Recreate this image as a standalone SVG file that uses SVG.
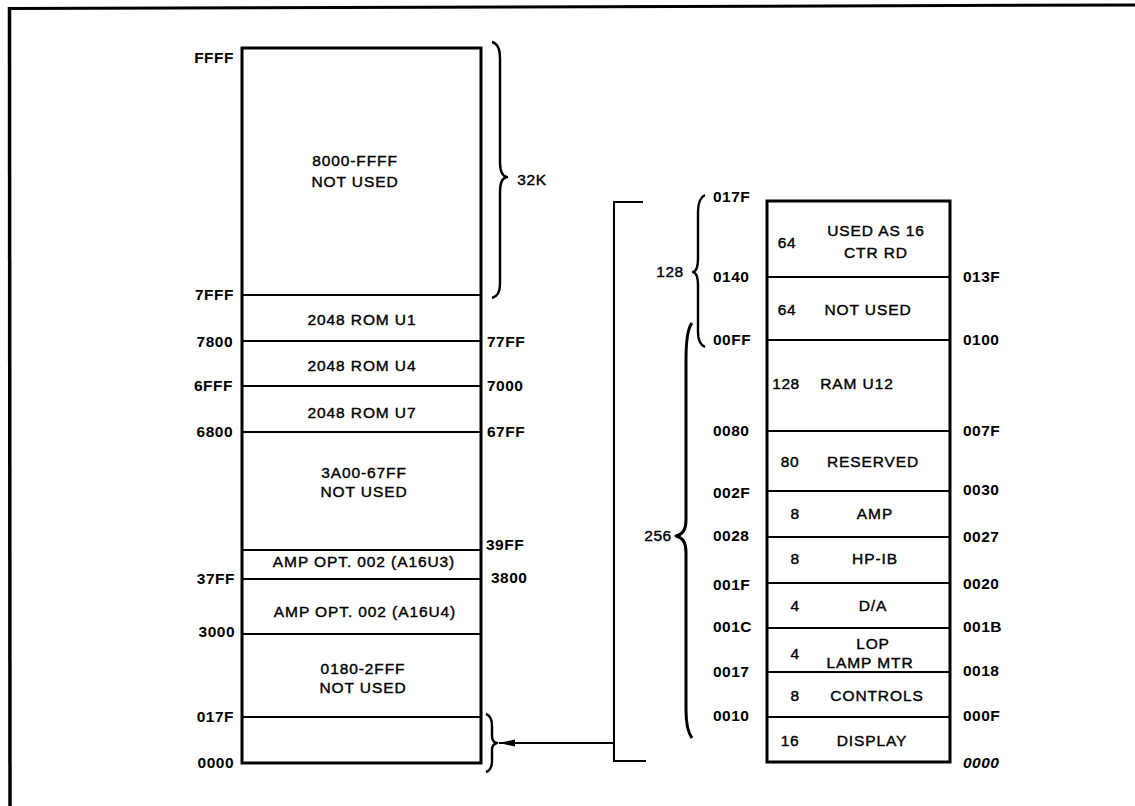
<svg xmlns="http://www.w3.org/2000/svg" width="1135" height="806" viewBox="0 0 1135 806">
<defs>
<style>
text{font-family:"Liberation Sans",Arial,sans-serif;fill:#000}
.in{font-size:15.5px;letter-spacing:0.9px;text-anchor:middle;stroke:#000;stroke-width:0.4}
.n{font-size:15.5px;letter-spacing:0.6px;text-anchor:middle;stroke:#000;stroke-width:0.4}
.ad{font-size:15.5px;font-weight:bold;letter-spacing:0.5px}
.adr{font-size:15.5px;font-weight:bold;letter-spacing:0.5px;text-anchor:end}
.box{fill:#fff;stroke:#000;stroke-width:3}
.div{stroke:#000;stroke-width:2;fill:none}
.br{fill:none;stroke:#000;stroke-width:2.4;stroke-linejoin:round}
.ln{fill:none;stroke:#000;stroke-width:2}
</style>
<marker id="ah" viewBox="0 0 16 8" refX="16" refY="4" markerWidth="16" markerHeight="8" markerUnits="userSpaceOnUse" orient="auto">
<path d="M0,0.5 L16,4 L0,7.5 Z" fill="#000"/>
</marker>
</defs>
<rect width="1135" height="806" fill="#fff"/>
<g id="frame">
<path d="M8,8.5 L1135,5" stroke="#000" stroke-width="3"/>
<path d="M9.5,7 L10,806" stroke="#000" stroke-width="3.5"/>
</g>

<g id="main-map">
<rect class="box" x="242" y="48" width="239" height="715"/>
<g class="div">
<line x1="242" y1="295" x2="481" y2="295"/>
<line x1="242" y1="341" x2="481" y2="341"/>
<line x1="242" y1="386" x2="481" y2="386"/>
<line x1="242" y1="432" x2="481" y2="432"/>
<line x1="242" y1="550" x2="481" y2="550"/>
<line x1="242" y1="579" x2="481" y2="579"/>
<line x1="242" y1="634" x2="481" y2="634"/>
<line x1="242" y1="717" x2="481" y2="717"/>
</g>
</g>
<g id="main-blocks">
<text class="in" x="355" y="166">8000-FFFF</text>
<text class="in" x="355" y="187">NOT USED</text>
<text class="in" x="362" y="325">2048 ROM U1</text>
<text class="in" x="362" y="371">2048 ROM U4</text>
<text class="in" x="362" y="418">2048 ROM U7</text>
<text class="in" x="364" y="478">3A00-67FF</text>
<text class="in" x="364" y="497">NOT USED</text>
<text class="in" x="364" y="567">AMP OPT. 002 (A16U3)</text>
<text class="in" x="365" y="617">AMP OPT. 002 (A16U4)</text>
<text class="in" x="363" y="674">0180-2FFF</text>
<text class="in" x="363" y="693">NOT USED</text>
</g>
<g id="main-addresses">
<text class="adr" x="234" y="63">FFFF</text>
<text class="adr" x="234" y="300">7FFF</text>
<text class="adr" x="233" y="347">7800</text>
<text class="adr" x="233" y="391">6FFF</text>
<text class="adr" x="233" y="437">6800</text>
<text class="adr" x="235" y="584">37FF</text>
<text class="adr" x="235" y="637">3000</text>
<text class="adr" x="234" y="722">017F</text>
<text class="adr" x="234" y="768">0000</text>
<text class="ad" x="487" y="347">77FF</text>
<text class="ad" x="487" y="391">7000</text>
<text class="ad" x="487" y="437">67FF</text>
<text class="ad" x="486" y="550">39FF</text>
<text class="ad" x="491" y="583">3800</text>
</g>
<g id="brace-32k">
<path class="br" d="M492,42 Q500,44 500,58 L500,162 Q500,176 507,177 Q500,178 500,192 L500,284 Q500,296 492,298"/>
<text class="n" x="532" y="185">32K</text>
</g>
<g id="brace-low">
<path class="br" d="M486,714 Q492,716 492,726 L492,736 Q492,742 497,743 Q492,744 492,750 L492,761 Q492,770 486,772"/>
</g>

<g id="detail-map">
<rect class="box" x="767" y="201" width="183" height="561"/>
<g class="div">
<line x1="767" y1="277" x2="950" y2="277"/>
<line x1="767" y1="340" x2="950" y2="340"/>
<line x1="767" y1="431" x2="950" y2="431"/>
<line x1="767" y1="491" x2="950" y2="491"/>
<line x1="767" y1="537" x2="950" y2="537"/>
<line x1="767" y1="583" x2="950" y2="583"/>
<line x1="767" y1="628" x2="950" y2="628"/>
<line x1="767" y1="672" x2="950" y2="672"/>
<line x1="767" y1="717" x2="950" y2="717"/>
</g>
</g>
<g id="detail-blocks">
<text class="n" x="787" y="248">64</text>
<text class="in" x="876" y="236">USED AS 16</text>
<text class="in" x="876" y="258">CTR RD</text>
<text class="n" x="787" y="315">64</text>
<text class="in" x="868" y="315">NOT USED</text>
<text class="n" x="786" y="389">128</text>
<text class="in" x="857" y="389">RAM U12</text>
<text class="n" x="790" y="467">80</text>
<text class="in" x="873" y="467">RESERVED</text>
<text class="n" x="795" y="519">8</text>
<text class="in" x="875" y="519">AMP</text>
<text class="n" x="795" y="564">8</text>
<text class="in" x="875" y="564">HP-IB</text>
<text class="n" x="795" y="611">4</text>
<text class="in" x="873" y="611">D/A</text>
<text class="n" x="795" y="659">4</text>
<text class="in" x="873" y="649">LOP</text>
<text class="in" x="870" y="668">LAMP MTR</text>
<text class="n" x="795" y="701">8</text>
<text class="in" x="877" y="701">CONTROLS</text>
<text class="n" x="790" y="746">16</text>
<text class="in" x="872" y="746">DISPLAY</text>
</g>
<g id="detail-addresses">
<text class="ad" x="713" y="202">017F</text>
<text class="ad" x="713" y="282">0140</text>
<text class="ad" x="713" y="345">00FF</text>
<text class="ad" x="713" y="436">0080</text>
<text class="ad" x="713" y="498">002F</text>
<text class="ad" x="713" y="541">0028</text>
<text class="ad" x="713" y="590">001F</text>
<text class="ad" x="713" y="632">001C</text>
<text class="ad" x="713" y="677">0017</text>
<text class="ad" x="713" y="721">0010</text>
<text class="ad" x="963" y="282">013F</text>
<text class="ad" x="963" y="345">0100</text>
<text class="ad" x="963" y="436">007F</text>
<text class="ad" x="963" y="495">0030</text>
<text class="ad" x="963" y="542">0027</text>
<text class="ad" x="963" y="589">0020</text>
<text class="ad" x="963" y="632">001B</text>
<text class="ad" x="963" y="676">0018</text>
<text class="ad" x="963" y="721">000F</text>
<text class="ad" x="963" y="768" style="font-style:italic">0000</text>
</g>
<g id="brace-128">
<path class="br" d="M705,195 Q698,198 698,212 L698,258 Q698,271 693,272 Q698,273 698,286 L698,332 Q698,344 705,347"/>
<text class="n" x="670" y="277">128</text>
</g>
<g id="brace-256">
<path class="br" d="M692,323 Q686,330 686,360 L686,520 Q686,534 676,536 Q686,538 686,552 L686,710 Q686,730 692,738" style="stroke-width:3"/>
<text class="n" x="658" y="541">256</text>
</g>

<g id="connectors">
<path class="ln" d="M643,202 H614 V761 H646"/>
<line class="ln" x1="614" y1="743" x2="499" y2="743" marker-end="url(#ah)"/>
</g>
</svg>
